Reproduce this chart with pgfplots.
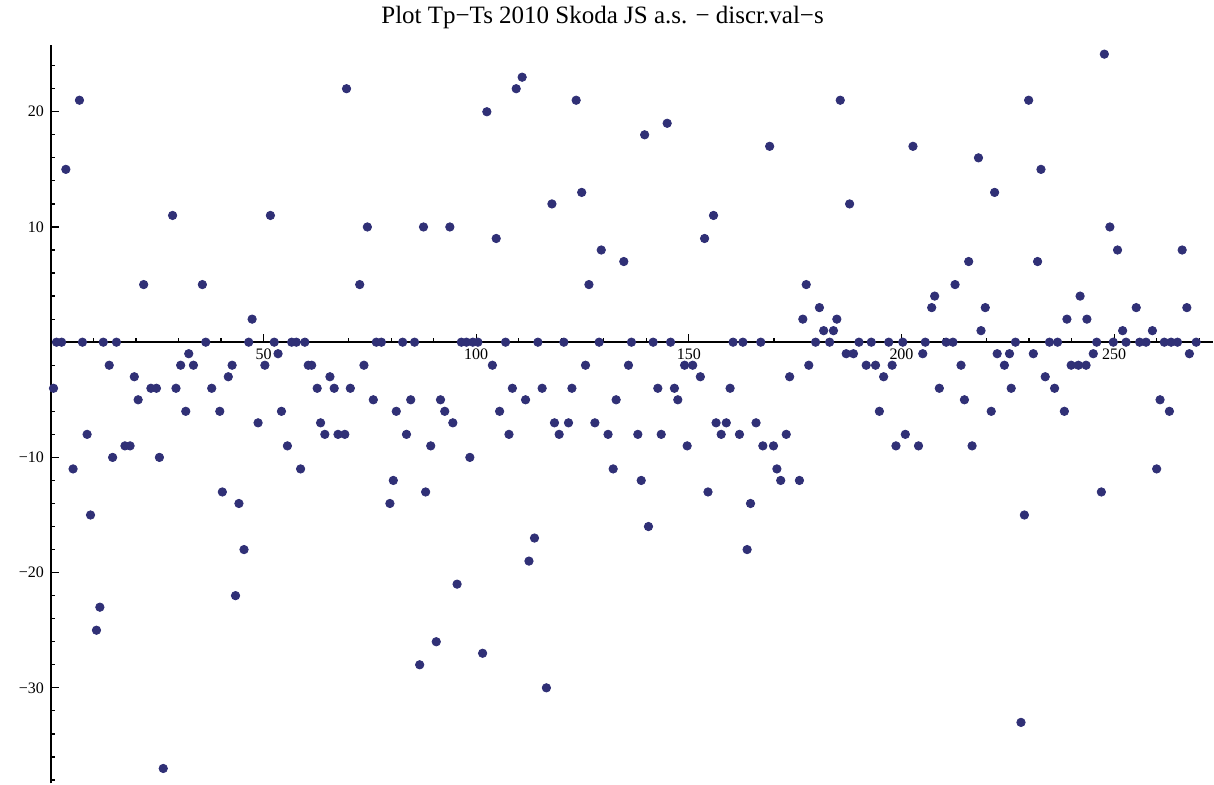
\documentclass[border=0pt]{standalone}
\usepackage{fontspec}
\setmainfont{Liberation Serif}
\usepackage{pgfplots}
\pgfplotsset{compat=1.18}
\definecolor{pt}{RGB}{48,48,118}
\begin{document}
\begin{tikzpicture}
\begin{axis}[
 scale only axis, width=581.5pt, height=369.5pt,
 xmin=0, xmax=273.3, ymin=-38.3, ymax=25.8,
 axis lines=middle, axis line style={-, line width=0.8pt},
 xtick={50,100,150,200,250}, xticklabels={50,100,150,200,250},
 ytick={-30,-20,-10,10,20}, yticklabels={−30,−20,−10,10,20},
 minor xtick={10,20,...,270}, minor ytick={-38,-36,...,24},
 tick align=inside, major tick length=4pt, minor tick length=2pt,
 tick style={black, line width=0.6pt},
 tick label style={font=\fontsize{8}{9}\selectfont},
 clip=false,
]
\addplot[only marks, mark=*, mark size=2.1pt, color=pt] table {
x y
0.6 -4
1.3 0
2.5 0
3.5 15
5.2 -11
6.7 21
7.4 0
8.5 -8
9.3 -15
10.7 -25
11.5 -23
12.3 0
13.7 -2
14.5 -10
15.4 0
17.4 -9
18.6 -9
19.6 -3
20.5 -5
21.8 5
23.5 -4
24.8 -4
25.5 -10
26.4 -37
28.6 11
29.4 -4
30.5 -2
31.7 -6
32.4 -1
33.5 -2
35.6 5
36.4 0
37.8 -4
39.7 -6
40.3 -13
41.7 -3
42.6 -2
43.4 -22
44.2 -14
45.4 -18
46.5 0
47.3 2
48.7 -7
50.3 -2
51.6 11
52.5 0
53.4 -1
54.2 -6
55.6 -9
56.6 0
57.7 0
58.7 -11
59.7 0
60.5 -2
61.3 -2
62.6 -4
63.4 -7
64.4 -8
65.6 -3
66.6 -4
67.5 -8
69.1 -8
69.5 22
70.4 -4
72.6 5
73.6 -2
74.4 10
75.8 -5
76.5 0
77.7 0
79.7 -14
80.5 -12
81.2 -6
82.7 0
83.6 -8
84.6 -5
85.5 0
86.7 -28
87.6 10
88.1 -13
89.3 -9
90.6 -26
91.6 -5
92.6 -6
93.8 10
94.5 -7
95.5 -21
96.5 0
97.7 0
98.5 -10
99.2 0
100.4 0
101.5 -27
102.5 20
103.8 -2
104.7 9
105.5 -6
106.9 0
107.7 -8
108.5 -4
109.4 22
110.8 23
111.6 -5
112.4 -19
113.7 -17
114.5 0
115.5 -4
116.5 -30
117.8 12
118.4 -7
119.5 -8
120.6 0
121.7 -7
122.5 -4
123.5 21
124.8 13
125.7 -2
126.5 5
127.9 -7
128.9 0
129.4 8
131.0 -8
132.2 -11
132.9 -5
134.7 7
135.8 -2
136.5 0
138.0 -8
138.8 -12
139.6 18
140.5 -16
141.6 0
142.7 -4
143.5 -8
144.9 19
145.7 0
146.6 -4
147.4 -5
149.0 -2
149.6 -9
150.9 -2
152.7 -3
153.7 9
154.5 -13
155.8 11
156.4 -7
157.6 -8
158.8 -7
159.7 -4
160.4 0
161.9 -8
162.7 0
163.7 -18
164.5 -14
165.8 -7
166.9 0
167.4 -9
169.0 17
169.9 -9
170.7 -11
171.6 -12
172.9 -8
173.7 -3
176.0 -12
176.8 2
177.6 5
178.2 -2
179.8 0
180.7 3
181.7 1
183.1 0
184.0 1
184.8 2
185.6 21
187.0 -1
187.8 12
188.7 -1
190.0 0
191.7 -2
192.9 0
193.9 -2
194.8 -6
195.8 -3
197.0 0
197.8 -2
198.7 -9
200.3 0
200.9 -8
202.7 17
204.0 -9
205.0 -1
205.6 0
207.1 3
207.8 4
208.9 -4
210.5 0
212.1 0
212.6 5
214.0 -2
214.8 -5
215.8 7
216.6 -9
218.1 16
218.7 1
219.7 3
221.1 -6
221.9 13
222.5 -1
224.2 -2
225.4 -1
225.8 -4
226.8 0
228.1 -33
228.9 -15
229.9 21
231.0 -1
232.0 7
232.8 15
233.8 -3
234.8 0
236.0 -4
236.7 0
238.3 -6
238.9 2
239.9 -2
241.6 -2
242.0 4
243.4 -2
243.6 2
245.1 -1
245.9 0
247.0 -13
247.7 25
249.0 10
249.8 0
250.8 8
252.0 1
252.8 0
255.2 3
256.0 0
257.5 0
259.0 1
260.0 -11
260.8 -5
261.8 0
263.0 -6
263.4 0
264.9 0
266.0 8
267.1 3
267.7 -1
269.3 0
};
\node[font=\fontsize{12.5}{14}\selectfont, anchor=center] at (rel axis cs:0.4746,1.0365) {Plot Tp−Ts 2010 Skoda JS a.s. − discr.val−s};
\end{axis}
\path[use as bounding box] ([xshift=-25.5pt]current axis.south west) rectangle ([yshift=20pt]current axis.north east);
\end{tikzpicture}
\end{document}
